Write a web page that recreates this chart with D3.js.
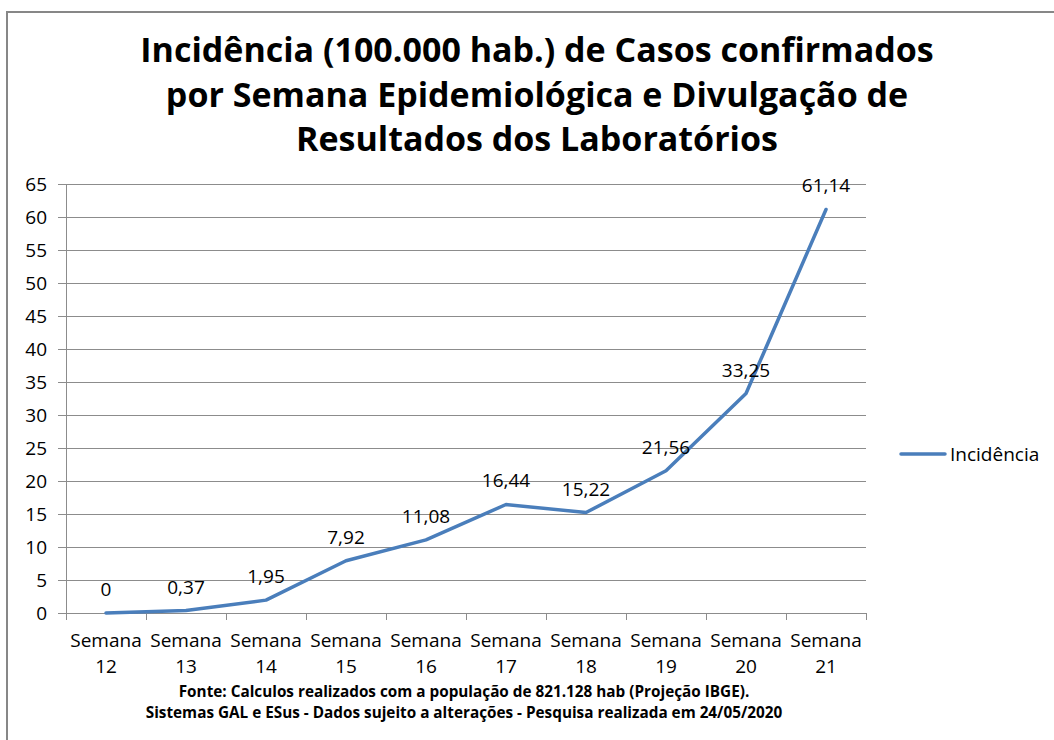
<!DOCTYPE html>
<html><head><meta charset="utf-8">
<script src="https://cdn.jsdelivr.net/npm/d3@7"></script>
<style>body{margin:0;background:#fff}svg{display:block}text{font-family:"Open Sans","Noto Sans",sans-serif}</style>
</head><body>
<svg id="c" width="1054" height="740"></svg>
<script>
const categories = ["Semana 12","Semana 13","Semana 14","Semana 15","Semana 16","Semana 17","Semana 18","Semana 19","Semana 20","Semana 21"];
const values = [0, 0.37, 1.95, 7.92, 11.08, 16.44, 15.22, 21.56, 33.25, 61.14];
const valueLabels = ["0","0,37","1,95","7,92","11,08","16,44","15,22","21,56","33,25","61,14"];
const yTicks = [0,5,10,15,20,25,30,35,40,45,50,55,60,65];
const titleLines = ["Incidência (100.000 hab.) de Casos confirmados","por Semana Epidemiológica e Divulgação de","Resultados dos Laboratórios"];
const footerLines = ["Fonte: Calculos realizados com a população de 821.128 hab (Projeção IBGE).","Sistemas GAL e ESus - Dados sujeito a alterações - Pesquisa realizada em 24/05/2020"];
const seriesName = "Incidência";

const svg = d3.select("#c");
svg.append("rect").attr("x",7).attr("y",12).attr("width",1100).attr("height",800)
  .attr("fill","#fff").attr("stroke","#878787").attr("stroke-width",2);

const L=66,R=866,T=184,B=613;
const x = d3.scaleBand().domain(categories).range([L,R]);
const y = d3.scaleLinear().domain([0,65]).range([B,T]);

// title
svg.append("g").selectAll("text").data(titleLines).join("text")
  .attr("x",537).attr("y",(d,i)=>62+i*44.5).attr("text-anchor","middle")
  .attr("font-weight","bold").attr("font-size",34).attr("fill","#000").text(d=>d);

// gridlines
svg.append("g").selectAll("line").data(yTicks).join("line")
  .attr("x1",L-8).attr("x2",R).attr("y1",d=>y(d)+0.5).attr("y2",d=>y(d)+0.5)
  .attr("stroke","#8c8c8c").attr("stroke-width",1);
// y axis line
svg.append("line").attr("x1",L+0.5).attr("x2",L+0.5).attr("y1",T).attr("y2",B)
  .attr("stroke","#8c8c8c");
// y labels
svg.append("g").selectAll("text").data(yTicks).join("text")
  .attr("x",47).attr("y",d=>y(d)+7).attr("text-anchor","end")
  .attr("font-size",19).attr("fill","#000").text(d=>d);

// x ticks
const xt = categories.map(c=>x(c)).concat([R]);
svg.append("g").selectAll("line").data(xt).join("line")
  .attr("x1",d=>d+0.5).attr("x2",d=>d+0.5).attr("y1",B).attr("y2",B+7)
  .attr("stroke","#8c8c8c");
const xl = svg.append("g").selectAll("text").data(categories).join("text")
  .attr("text-anchor","middle").attr("font-size",19).attr("fill","#000");
xl.append("tspan").attr("x",d=>x(d)+x.bandwidth()/2).attr("y",647).text(d=>d.split(" ")[0]);
xl.append("tspan").attr("x",d=>x(d)+x.bandwidth()/2).attr("y",673).text(d=>d.split(" ")[1]);

// line
const line = d3.line().x((d,i)=>x(categories[i])+x.bandwidth()/2).y(d=>y(d));
svg.append("path").datum(values).attr("d",line).attr("fill","none")
  .attr("stroke","#4a7ebb").attr("stroke-width",3.5).attr("stroke-linejoin","round").attr("stroke-linecap","round");

// data labels
svg.append("g").selectAll("text").data(values).join("text")
  .attr("x",(d,i)=>x(categories[i])+x.bandwidth()/2).attr("y",d=>y(d)-17)
  .attr("text-anchor","middle").attr("font-size",19).attr("fill","#000")
  .text((d,i)=>valueLabels[i]);

// legend
svg.append("line").attr("x1",901).attr("x2",945).attr("y1",454).attr("y2",454)
  .attr("stroke","#4a7ebb").attr("stroke-width",3.5).attr("stroke-linecap","round");
svg.append("text").attr("x",950).attr("y",461).attr("font-size",19).attr("fill","#000").text(seriesName);

// footer
svg.append("g").selectAll("text").data(footerLines).join("text")
  .attr("x",464).attr("y",(d,i)=>697+i*21).attr("text-anchor","middle")
  .attr("font-weight","bold").attr("font-size",15.3).attr("fill","#000").text(d=>d);
</script>
</body></html>
